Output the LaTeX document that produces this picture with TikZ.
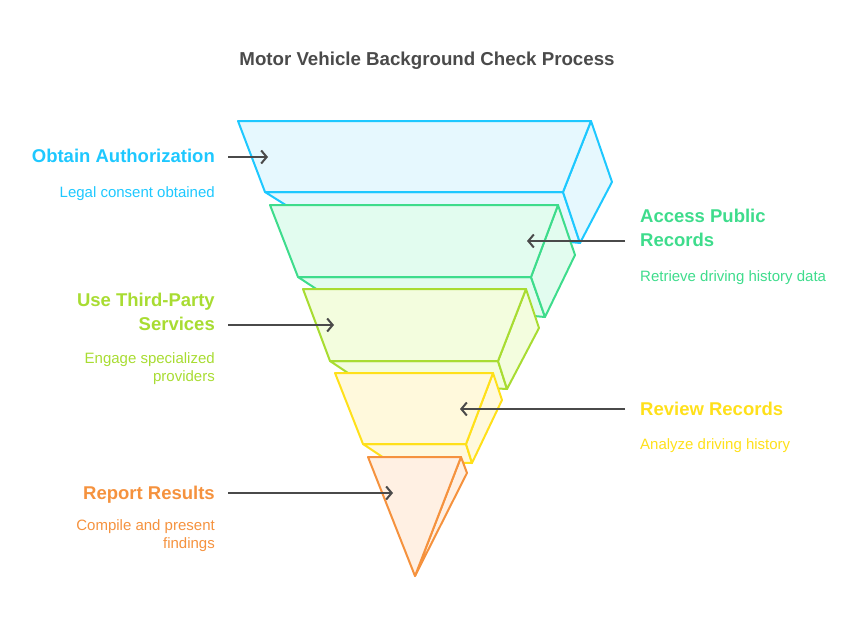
\documentclass[tikz,border=0pt]{standalone}
\usepackage{fontspec}
\setmainfont{Liberation Sans}
\usepackage{xcolor}
\usetikzlibrary{arrows.meta}

\definecolor{cBlue}{HTML}{1EC8FF}
\definecolor{fBlue}{HTML}{E6F8FE}
\definecolor{cGreen}{HTML}{3EDC8C}
\definecolor{fGreen}{HTML}{E2FCEF}
\definecolor{cLime}{HTML}{A8DC32}
\definecolor{fLime}{HTML}{F3FDDE}
\definecolor{cYellow}{HTML}{FFE01A}
\definecolor{fYellow}{HTML}{FFF9DC}
\definecolor{cOrange}{HTML}{F5923E}
\definecolor{fOrange}{HTML}{FFF0E3}
\definecolor{cText}{HTML}{4A4A4A}

\tikzset{
    layer/.style={line width=2pt, line join=round},
    head/.style={inner sep=0pt, font=\fontsize{18.5}{24}\selectfont\bfseries},
    body/.style={inner sep=0pt, font=\fontsize{15}{18}\selectfont},
    pointer/.style={line width=2pt, cText, -{Straight Barb[length=5.5pt, width=13pt]}}
}

\begin{document}
\begin{tikzpicture}[x=1pt, y=-1pt]
        \useasboundingbox (0,0) rectangle (854,626);

        \node[inner sep=0pt, text=cText, font=\fontsize{18.7}{22}\selectfont\bfseries] (title) at (427,61) {Motor Vehicle Background Check Process};

        % funnel, top to bottom
        \filldraw[layer, draw=cBlue, fill=fBlue] (265,192) -- (563,192) -- (580,243) -- (300,214) -- cycle;
        \filldraw[layer, draw=cBlue, fill=fBlue] (591,121) -- (612,182) -- (580,243) -- (563,192) -- cycle;
        \filldraw[layer, draw=cBlue, fill=fBlue] (238,121) -- (591,121) -- (563,192) -- (265,192) -- cycle;

        \filldraw[layer, draw=cGreen, fill=fGreen] (298,277) -- (531,277) -- (545,317) -- (330,298) -- cycle;
        \filldraw[layer, draw=cGreen, fill=fGreen] (558,205) -- (575,255) -- (545,317) -- (531,277) -- cycle;
        \filldraw[layer, draw=cGreen, fill=fGreen] (270,205) -- (558,205) -- (531,277) -- (298,277) -- cycle;

        \filldraw[layer, draw=cLime, fill=fLime] (330,361) -- (498,361) -- (507,389) -- (360,381) -- cycle;
        \filldraw[layer, draw=cLime, fill=fLime] (526,289) -- (539,328) -- (507,389) -- (498,361) -- cycle;
        \filldraw[layer, draw=cLime, fill=fLime] (303,289) -- (526,289) -- (498,361) -- (330,361) -- cycle;

        \filldraw[layer, draw=cYellow, fill=fYellow] (363,444) -- (466,444) -- (472,463) -- (390,462) -- cycle;
        \filldraw[layer, draw=cYellow, fill=fYellow] (493,373) -- (502,400) -- (472,463) -- (466,444) -- cycle;
        \filldraw[layer, draw=cYellow, fill=fYellow] (335,373) -- (493,373) -- (466,444) -- (363,444) -- cycle;

        \filldraw[layer, draw=cOrange, fill=fOrange] (461,457) -- (467,473) -- (415,576) -- cycle;
        \filldraw[layer, draw=cOrange, fill=fOrange] (368,457) -- (461,457) -- (415,576) -- cycle;

        % labels
        \node[head, text=cBlue, anchor=north east] (authT) at (215,149) {Obtain Authorization};
        \node[body, text=cBlue, anchor=north east] (authD) at (215,186) {Legal consent obtained};

        \node[head, text=cGreen, anchor=north west, align=left] (recT) at (640,209) {Access Public\\Records};
        \node[body, text=cGreen, anchor=north west] (recD) at (640,270) {Retrieve driving history data};

        \node[head, text=cLime, anchor=north east, align=right] (thirdT) at (215,293) {Use Third-Party\\Services};
        \node[body, text=cLime, anchor=north east, align=right] (thirdD) at (215,352) {Engage specialized\\providers};

        \node[head, text=cYellow, anchor=north west] (revT) at (640,402) {Review Records};
        \node[body, text=cYellow, anchor=north west] (revD) at (640,438) {Analyze driving history};

        \node[head, text=cOrange, anchor=north east] (repT) at (215,486) {Report Results};
        \node[body, text=cOrange, anchor=north east, align=right] (repD) at (215,519) {Compile and present\\findings};

        % pointers
        \coordinate (authS) at (228,157);
        \coordinate (authE) at (268,157);
        \coordinate (recS) at (625,241);
        \coordinate (recE) at (527,241);
        \coordinate (thirdS) at (228,325);
        \coordinate (thirdE) at (334,325);
        \coordinate (revS) at (625,409);
        \coordinate (revE) at (460,409);
        \coordinate (repS) at (228,493);
        \coordinate (repE) at (393,493);

        \draw[pointer] (authS) -- (authE);
        \draw[pointer] (recS) -- (recE);
        \draw[pointer] (thirdS) -- (thirdE);
        \draw[pointer] (revS) -- (revE);
        \draw[pointer] (repS) -- (repE);
\end{tikzpicture}
\end{document}
